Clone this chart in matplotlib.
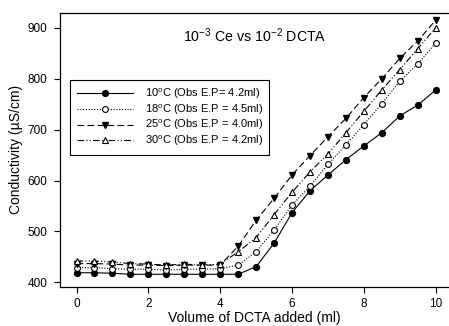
import matplotlib
matplotlib.use("Agg")
import matplotlib.pyplot as plt

plt.rcParams['font.family'] = ['Liberation Sans', 'DejaVu Sans']
plt.rcParams['mathtext.fontset'] = 'custom'
plt.rcParams['mathtext.rm'] = 'Liberation Sans'
plt.rcParams['mathtext.it'] = 'Liberation Sans:italic'

volume = [0, 0.5, 1, 1.5, 2, 2.5, 3, 3.5, 4, 4.5, 5, 5.5, 6, 6.5, 7, 7.5, 8, 8.5, 9, 9.5, 10]

cond_10 = [419, 419, 418, 416, 416, 416, 416, 416, 416, 416, 431, 477, 537, 580, 611, 641,
           668, 694, 727, 748, 778]
cond_18 = [429, 429, 427, 426, 426, 424, 426, 426, 427, 434, 460, 503, 552, 589, 632, 670,
           710, 751, 795, 829, 870]
cond_25 = [437, 437, 436, 434, 434, 433, 434, 434, 434, 471, 522, 565, 611, 649, 686, 722,
           763, 800, 840, 874, 915]
cond_30 = [442, 442, 440, 437, 436, 434, 436, 434, 436, 460, 488, 533, 577, 617, 652, 694,
           736, 778, 818, 859, 900]

labels = [r"10$^{\mathrm{o}}$C (Obs E.P= 4.2ml)",
          r"18$^{\mathrm{o}}$C (Obs E.P = 4.5ml)",
          r"25$^{\mathrm{o}}$C (Obs E.P = 4.0ml)",
          r"30$^{\mathrm{o}}$C (Obs E.P = 4.2ml)"]

fig = plt.figure(figsize=(4.49, 3.26), dpi=100)
ax = fig.add_axes([0.1336, 0.1196, 0.8664, 0.8414])

lw = 0.8
ms = 4.2
ax.plot(volume, cond_10, color='black', lw=lw, ls='-', marker='o', ms=ms,
        mfc='black', mec='black', label=labels[0])
ax.plot(volume, cond_18, color='black', lw=lw, ls=(0, (1, 1.5)), marker='o', ms=ms,
        mfc='white', mec='black', mew=0.8, label=labels[1])
ax.plot(volume, cond_25, color='black', lw=lw, ls=(0, (6, 3)), marker='v', ms=ms + 0.8,
        mfc='black', mec='black', label=labels[2])
ax.plot(volume, cond_30, color='black', lw=lw, ls=(0, (6, 2, 1, 2, 1, 2)), marker='^',
        ms=ms + 0.8, mfc='white', mec='black', mew=0.8, label=labels[3])

ax.set_xlim(-0.46, 10.37)
ax.set_ylim(391, 929.5)
ax.set_xticks([0, 2, 4, 6, 8, 10])
ax.set_yticks([400, 500, 600, 700, 800, 900])
ax.tick_params(direction='out', length=4, width=0.8, labelsize=8.5, pad=5)
ax.tick_params(axis='x', pad=4)
ax.spines['right'].set_visible(False)
for s in ['left', 'bottom', 'top']:
    ax.spines[s].set_linewidth(0.9)

ax.set_xlabel("Volume of DCTA added (ml)", fontsize=10)
ax.xaxis.set_label_coords(0.5, -0.086)
ax.set_ylabel("Conductivity (µS/cm)", fontsize=10, labelpad=3)

ax.text(0.5, 0.915, r"10$^{-3}$ Ce vs 10$^{-2}$ DCTA", transform=ax.transAxes,
        ha='center', va='center', fontsize=10.2)

leg = ax.legend(loc='upper left', bbox_to_anchor=(0.026, 0.755), borderaxespad=0,
                fontsize=8, handlelength=5.1, handletextpad=1.0, labelspacing=0.12,
                borderpad=0.6, fancybox=False, framealpha=1, edgecolor='black')
leg.get_frame().set_linewidth(0.8)

fig.savefig("out.png", dpi=100)
